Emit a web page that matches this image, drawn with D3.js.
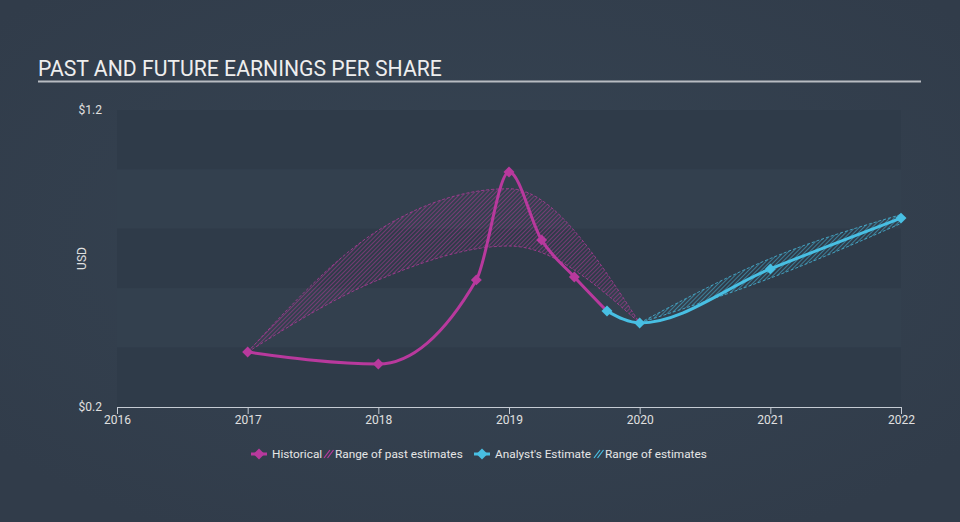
<!DOCTYPE html>
<html><head><meta charset="utf-8">
<script src="https://cdn.jsdelivr.net/npm/d3@7"></script>
<style>
html,body{margin:0;padding:0;background:#34404f;}
svg{display:block;font-family:Roboto, "Open Sans", sans-serif;}
</style></head>
<body>
<svg id="chart" width="960" height="522"></svg>
<script>
// ---- data ----
const title = "PAST AND FUTURE EARNINGS PER SHARE";
const xTicks = [2016, 2017, 2018, 2019, 2020, 2021, 2022];
const yTicks = [0.2, 1.2];
const historicalX = [2017, 2018, 2018.75, 2019, 2019.25, 2019.5, 2019.75];
const historicalY = [0.385, 0.345, 0.628, 0.991, 0.762, 0.638, 0.523];
const pastRangeX = [2017, 2018, 2019, 2020];
const pastRangeLow = [0.385, 0.628, 0.742, 0.483];
const pastRangeHigh = [0.385, 0.795, 0.935, 0.483];
const estimateX = [2019.75, 2020, 2021, 2022];
const estimateY = [0.523, 0.483, 0.665, 0.836];
const estRangeX = [2020, 2021, 2022];
const estRangeLow = [0.483, 0.634, 0.818];
const estRangeHigh = [0.483, 0.700, 0.848];
const legendLabels = ["Historical", "Range of past estimates", "Analyst's Estimate", "Range of estimates"];

const magenta = "#b8399d", cyan = "#48bfe3";
const svg = d3.select("#chart");
const W = 960, H = 522;
const m = {left:117, right:59, top:110, bottom:115};
const x = d3.scaleLinear().domain([2016, 2022]).range([m.left, W - m.right]);
const y = d3.scaleLinear().domain([0.2, 1.2]).range([H - m.bottom, m.top]);

const defs = svg.append("defs");
const bg = defs.append("radialGradient").attr("id","bg").attr("cx","50%").attr("cy","45%").attr("r","65%");
bg.append("stop").attr("offset","0%").attr("stop-color","#364453");
bg.append("stop").attr("offset","100%").attr("stop-color","#313c4a");
function hatch(id, color){
  const p = defs.append("pattern").attr("id", id).attr("patternUnits","userSpaceOnUse")
    .attr("width", 3).attr("height", 3).attr("patternTransform","rotate(45)");
  p.append("line").attr("x1",0).attr("y1",0).attr("x2",0).attr("y2",3)
    .attr("stroke", color).attr("stroke-width", 1.2).attr("stroke-opacity", 0.85);
}
hatch("hatchM", magenta); hatch("hatchC", cyan);

svg.append("rect").attr("width",W).attr("height",H).attr("fill","url(#bg)");

// title
svg.append("text").attr("x",38).attr("y",76).attr("fill","#eeeeee")
  .attr("font-size",21.2).text(title);
svg.append("line").attr("x1",38).attr("x2",921).attr("y1",81.5).attr("y2",81.5)
  .attr("stroke","#b8bcc2").attr("stroke-width",2);

// bands
for (let i = 0; i < 5; i++) {
  const lo = 1.2 - (i+1)*0.2, hi = 1.2 - i*0.2;
  svg.append("rect").attr("x", x(2016)).attr("width", x(2022)-x(2016))
    .attr("y", y(hi)).attr("height", y(lo)-y(hi))
    .attr("fill", i % 2 === 0 ? "#2f3b49" : "#33404e");
}

// axes
const xAxis = d3.axisBottom(x).tickValues(xTicks).tickFormat(d3.format("d")).tickSize(7).tickSizeOuter(7);
const gx = svg.append("g").attr("transform",`translate(0,${y(0.2)})`).call(xAxis);
gx.select(".domain").attr("stroke","#c5cbd3");
gx.selectAll(".tick line").attr("stroke","#c5cbd3");
gx.selectAll("text").attr("fill","#e0e0e0").attr("font-size",12).attr("dy","0.6em").attr("font-family","Roboto, sans-serif");

svg.selectAll(".ylab").data(yTicks).join("text").attr("class","ylab")
  .attr("x", 102).attr("y", d => y(d)).attr("dy","0.3em").attr("text-anchor","end")
  .attr("fill","#e0e0e0").attr("font-size",12).text(d => "$" + d);
svg.append("text").attr("transform",`translate(86,${(y(0.2)+y(1.2))/2}) rotate(-90)`)
  .attr("text-anchor","middle").attr("fill","#e0e0e0").attr("font-size",12).text("USD");

// ranges
function rangeArea(xs, lo, hi, fillId, color){
  const pts = xs.map((d,i)=>({x:d, lo:lo[i], hi:hi[i]}));
  const area = d3.area().curve(d3.curveMonotoneX).x(d=>x(d.x)).y0(d=>y(d.lo)).y1(d=>y(d.hi));
  svg.append("path").attr("d", area(pts)).attr("fill", `url(#${fillId})`);
  const lineLo = d3.line().curve(d3.curveMonotoneX).x(d=>x(d.x)).y(d=>y(d.lo));
  const lineHi = d3.line().curve(d3.curveMonotoneX).x(d=>x(d.x)).y(d=>y(d.hi));
  [lineLo, lineHi].forEach(l => svg.append("path").attr("d", l(pts)).attr("fill","none")
    .attr("stroke", color).attr("stroke-width",1).attr("stroke-dasharray","3,2").attr("stroke-opacity",0.75));
}
rangeArea(pastRangeX, pastRangeLow, pastRangeHigh, "hatchM", magenta);
rangeArea(estRangeX, estRangeLow, estRangeHigh, "hatchC", cyan);

// lines
const hist = historicalX.map((d,i)=>({x:d, v:historicalY[i]}));
const est = estimateX.map((d,i)=>({x:d, v:estimateY[i]}));
const line = d3.line().curve(d3.curveMonotoneX).x(d=>x(d.x)).y(d=>y(d.v));
svg.append("path").attr("d", line(hist)).attr("fill","none").attr("stroke",magenta).attr("stroke-width",3);
svg.append("path").attr("d", line(est)).attr("fill","none").attr("stroke",cyan).attr("stroke-width",3);

const diamond = d3.symbol().type(d3.symbolSquare).size(60);
svg.selectAll(".mh").data(hist.slice(0, -1)).join("path").attr("class","mh")
  .attr("d", diamond).attr("transform", d=>`translate(${x(d.x)},${y(d.v)}) rotate(45)`).attr("fill", magenta);
svg.selectAll(".me").data(est).join("path").attr("class","me")
  .attr("d", diamond).attr("transform", d=>`translate(${x(d.x)},${y(d.v)}) rotate(45)`).attr("fill", cyan);

// legend
const ly = 454;
const lg = svg.append("g").attr("font-size",11.8).attr("fill","#e6e6e6");
function legendMarker(cx, color){
  lg.append("line").attr("x1",cx-8).attr("x2",cx+8).attr("y1",ly).attr("y2",ly).attr("stroke",color).attr("stroke-width",3);
  lg.append("path").attr("d", diamond).attr("transform",`translate(${cx},${ly}) rotate(45)`).attr("fill",color);
}
function legendHatch(x0, color){
  for (let k=0;k<2;k++) lg.append("line").attr("x1",x0+k*3.5).attr("y1",ly+4).attr("x2",x0+k*3.5+6).attr("y2",ly-4)
    .attr("stroke",color).attr("stroke-width",1.2);
}
legendMarker(259, magenta);
lg.append("text").attr("x",272).attr("y",ly).attr("dy","0.35em").text(legendLabels[0]);
legendHatch(324, magenta);
lg.append("text").attr("x",335).attr("y",ly).attr("dy","0.35em").text(legendLabels[1]);
legendMarker(482, cyan);
lg.append("text").attr("x",495).attr("y",ly).attr("dy","0.35em").text(legendLabels[2]);
legendHatch(594, cyan);
lg.append("text").attr("x",605).attr("y",ly).attr("dy","0.35em").text(legendLabels[3]);
</script>
</body></html>
